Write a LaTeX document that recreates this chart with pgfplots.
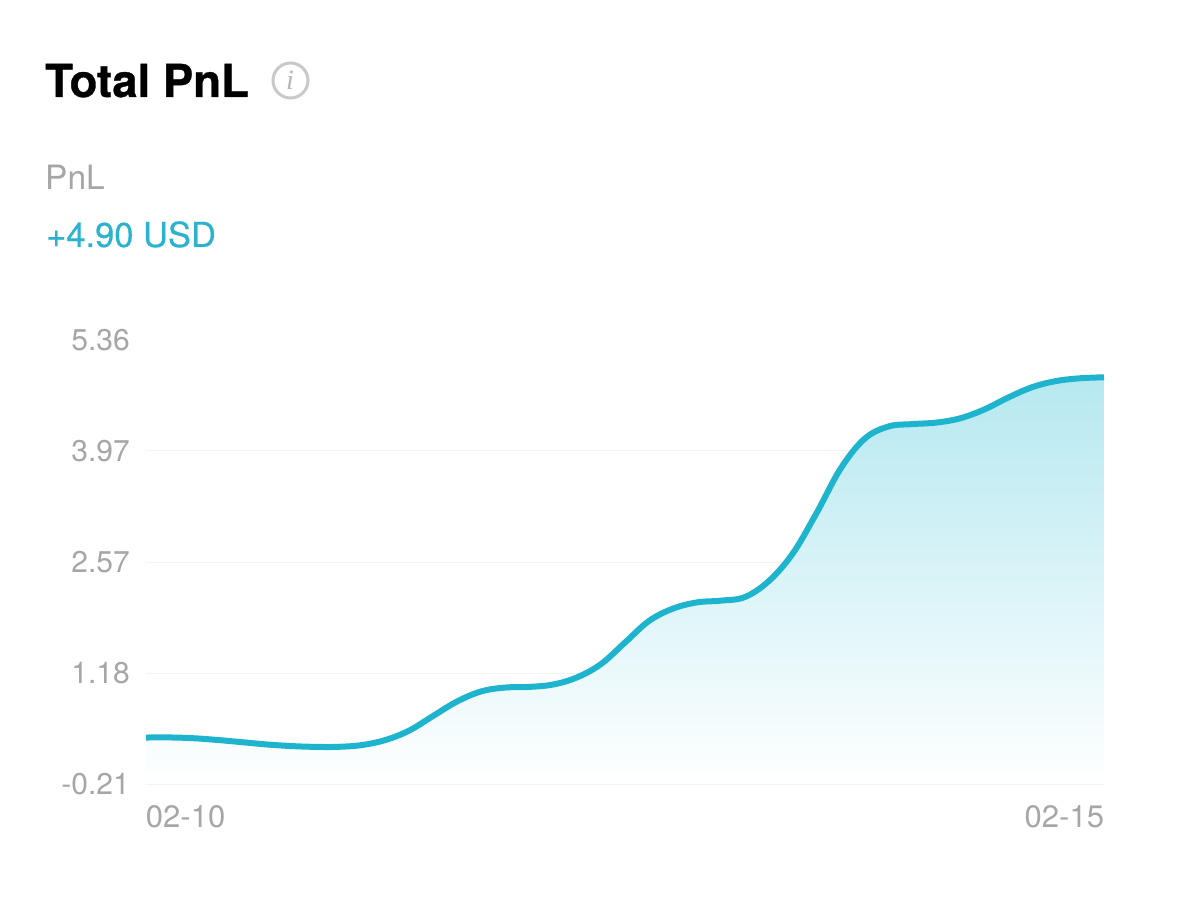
\documentclass[border=0pt]{standalone}
\usepackage{fontspec}
\setmainfont{TeX Gyre Heros}
\newfontfamily\iconfont{Liberation Serif}
\newfontfamily\titlefont[UprightFeatures={FakeBold=0.7}]{TeX Gyre Heros Bold}
\newfontfamily\midfont[UprightFeatures={FakeBold=0.4}]{TeX Gyre Heros}
\usepackage{pgfplots}
\usepackage{pgfplotstable}
\pgfplotsset{compat=1.18}
\definecolor{teal1}{HTML}{1FB4CD}
\definecolor{teal2}{HTML}{2BB2CE}
\definecolor{fillT}{HTML}{B6E8F0}
\definecolor{gtxt}{HTML}{A6A6A6}
\definecolor{glin}{HTML}{F3F3F3}
\definecolor{icn}{HTML}{C9C9C9}
\pgfplotstableread{
x y
0.000 0.373
0.125 0.374
0.250 0.364
0.375 0.342
0.500 0.315
0.625 0.287
0.750 0.267
0.875 0.256
1.000 0.256
1.125 0.278
1.250 0.342
1.375 0.462
1.500 0.646
1.625 0.827
1.750 0.952
1.875 1.000
2.000 1.008
2.125 1.038
2.250 1.128
2.375 1.295
2.500 1.565
2.625 1.835
2.750 1.990
2.875 2.068
3.000 2.090
3.125 2.135
3.250 2.335
3.375 2.680
3.500 3.190
3.625 3.745
3.750 4.120
3.875 4.275
4.000 4.305
4.125 4.324
4.250 4.378
4.375 4.488
4.500 4.638
4.625 4.768
4.750 4.845
4.875 4.880
5.000 4.892
}\pnl
\begin{document}
\begin{tikzpicture}[x=1pt,y=1pt]
\path[use as bounding box,fill=white] (0,0) rectangle (1179,-909);
\node[anchor=base west,inner sep=0pt,font=\fontsize{45.5}{50}\titlefont,text=black] at (45,-97) {Total PnL};
\draw[icn,line width=3pt] (290.5,-80.5) circle (17.5);
\node[inner sep=0pt,text=icn!90!black,font=\fontsize{28}{30}\selectfont\iconfont\itshape] at (290,-80.5) {i};
\node[anchor=base west,inner sep=0pt,font=\fontsize{33.5}{38}\selectfont,text=gtxt] at (45,-190) {PnL};
\node[anchor=base west,inner sep=0pt,font=\fontsize{34.5}{38}\midfont,text=teal2] at (46,-247) {+4.90 USD};
\begin{axis}[
  at={(146pt,-784pt)},anchor=south west,
  scale only axis,width=958pt,height=444pt,
  xmin=0,xmax=5,ymin=-0.21,ymax=5.36,
  axis line style={draw=none},
  xtick={0,5},
  xticklabels={\makebox[0pt][l]{02-10},\makebox[0pt][r]{02-15}},
  ytick={-0.21,1.18,2.57,3.97},
  yticklabels={-0.21,1.18,2.57,3.97},
  extra y ticks={5.36},
  extra y tick labels={5.36},
  extra y tick style={grid=none},
  major tick length=0pt,
  ymajorgrids,
  major grid style={glin,line width=1pt},
  tick label style={text=gtxt,inner sep=0pt},
  xtick pos=bottom,ytick pos=left,
  xtick align=outside,ytick align=outside,
  x tick label style={anchor=north,font=\fontsize{31}{34}\selectfont},
  y tick label style={anchor=east,font=\fontsize{30}{34}\selectfont},
  xticklabel shift=21.5pt,
  yticklabel shift=16pt,
]
\addplot[draw=none,shade,top color=fillT,bottom color=white,forget plot,smooth,tension=0.6]
  table[x=x,y=y]{\pnl} -- (axis cs:5,-0.21) -- (axis cs:0,-0.21) -- cycle;
\addplot[teal1,line width=6pt,smooth,tension=0.6,line cap=butt] table[x=x,y=y]{\pnl};
\end{axis}
\end{tikzpicture}
\end{document}
